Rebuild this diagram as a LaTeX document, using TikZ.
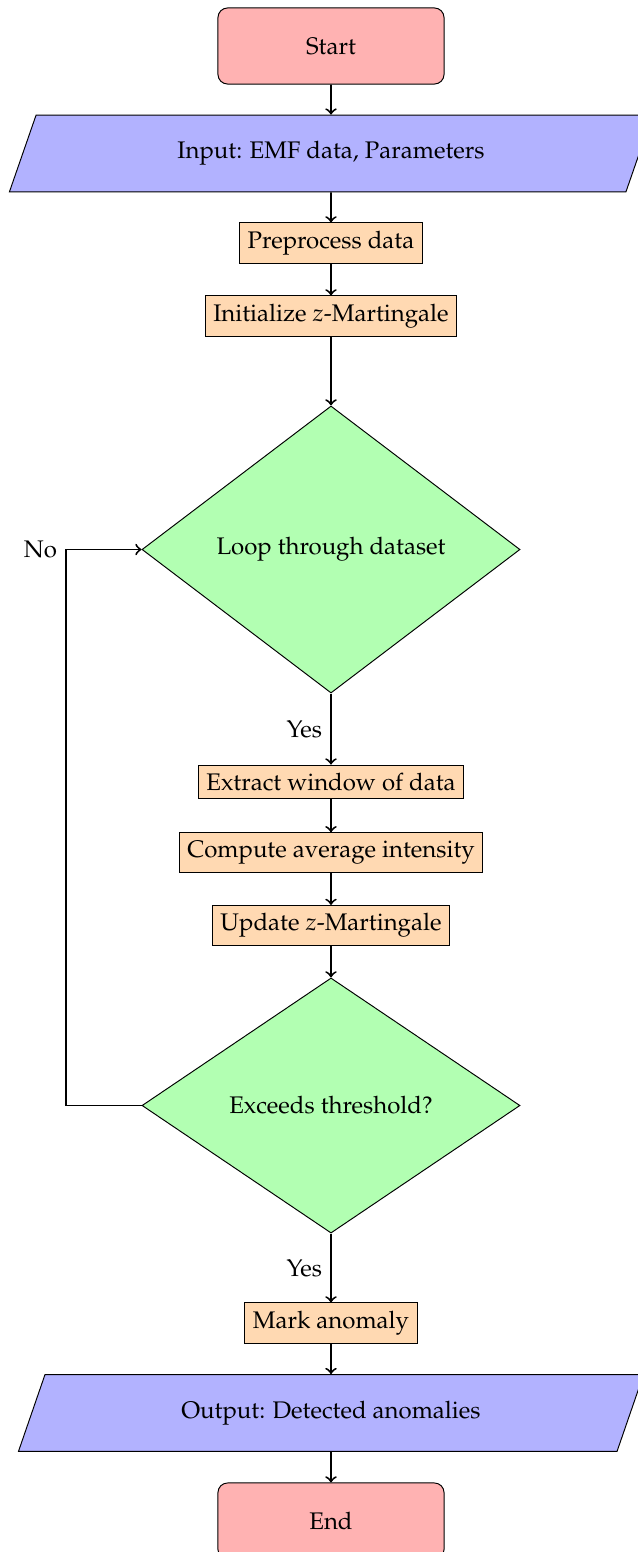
\documentclass[tikz,border=0pt]{standalone}
\usepackage[T1]{fontenc}
\usepackage{mathpazo}
\usetikzlibrary{shapes.geometric}
\begin{document}
\begin{tikzpicture}[x=0.41667pt,y=-0.41667pt,
  terminal/.style={rectangle, rounded corners=4pt, draw, fill=red!30,
    minimum width=94.2pt, minimum height=31.7pt},
  io/.style={trapezium, trapezium left angle=70, trapezium right angle=110,
    trapezium stretches=true, draw, fill=blue!30, minimum height=32pt},
  process/.style={rectangle, draw, fill=orange!30},
  decision/.style={diamond, draw, fill=green!30, inner sep=0pt},
  flow/.style={->, thick},
]
\useasboundingbox (0,0) rectangle (638,1552);

% nodes
\node[terminal] (start) at (331,46) {Start};
\node[io, minimum width=268.3pt] (input) at (331,153.5) {Input: EMF data, Parameters};
\node[process] (prep) at (331,243) {Preprocess data};
\node[process] (init) at (331,316) {Initialize $z$-Martingale};
\node[decision, minimum width=157.5pt, minimum height=119.6pt] (loop) at (331,549.5) {Loop through dataset};
\node[process] (extract) at (331,782) {Extract window of data};
\node[process] (avg) at (331,852.5) {Compute average intensity};
\node[process] (update) at (331,925.5) {Update $z$-Martingale};
\node[decision, minimum width=157.5pt, minimum height=106.3pt] (check) at (331,1105.5) {Exceeds threshold?};
\node[process] (mark) at (331,1323) {Mark anomaly};
\node[io, minimum width=260.8pt] (output) at (331,1413) {Output: Detected anomalies};
\node[terminal] (end) at (331,1521) {End};

% connectors
\draw[flow] (start) -- (input);
\draw[flow] (input) -- (prep);
\draw[flow] (prep) -- (init);
\draw[flow] (init) -- (loop);
\draw[flow] (loop) -- node[midway, left] {Yes} (extract);
\draw[flow] (extract) -- (avg);
\draw[flow] (avg) -- (update);
\draw[flow] (update) -- (check);
\draw[flow] (check) -- node[midway, left] {Yes} (mark);
\draw[flow] (mark) -- (output);
\draw[flow] (output) -- (end);

\coordinate (back) at (66,1105.5);
\draw[flow] (check.west) -- (back) |- node[pos=0.5, left] {No} (loop.west);
\end{tikzpicture}
\end{document}
